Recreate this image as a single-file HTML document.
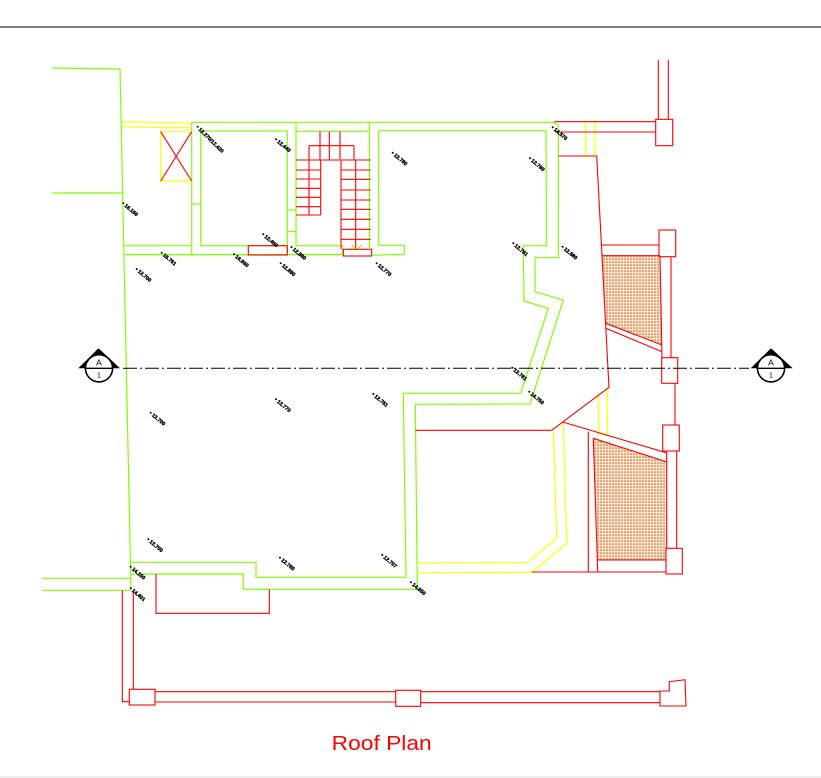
<!DOCTYPE html>
<html><head><meta charset="utf-8"><style>
html,body{margin:0;padding:0;background:#fff;}
svg{display:block;}
.g{stroke:#80ff00;stroke-width:1.2;fill:none;}
.r{stroke:#ff0000;stroke-width:1.1;fill:none;}
.y{stroke:#ffff00;stroke-width:1.2;fill:none;}
.lb text{font-family:"Liberation Sans",sans-serif;font-size:5.2px;font-weight:bold;fill:#000;stroke:#000;stroke-width:0.35;}
.lb circle{fill:#000;}
</style></head><body>
<svg width="821" height="778" viewBox="0 0 821 778" xmlns="http://www.w3.org/2000/svg">
<defs>
<pattern id="h" width="3" height="3" patternUnits="userSpaceOnUse">
<rect x="0" y="0.5" width="2" height="1.2" fill="#d9803f"/>
</pattern>
</defs>
<rect width="821" height="778" fill="#fff"/>
<line x1="0" y1="27" x2="821" y2="27" stroke="#000" stroke-width="1"/>
<line x1="0" y1="777" x2="821" y2="777" stroke="#ddd" stroke-width="1"/>

<!-- hatch areas -->
<polygon points="602.3,255.7 660,255.7 662,345 605.7,323.3" fill="#f8e2d0"/>
<polygon points="602.3,255.7 660,255.7 662,345 605.7,323.3" fill="url(#h)"/>
<polygon points="593.3,438.3 666,461.7 666,560 597.7,560" fill="#f8e2d0"/>
<polygon points="593.3,438.3 666,461.7 666,560 597.7,560" fill="url(#h)"/>

<!-- GREEN -->
<g class="g">
<polyline points="52,68 120,69 131,590"/>
<line x1="52" y1="193" x2="122" y2="193"/>
<line x1="191.7" y1="122.3" x2="553.3" y2="122.3"/>
<polyline points="553.3,122.3 558.3,125 558.3,257.7 535,257.7 535,291.7 563.3,300 530,404 415.3,404.3 417.3,589.3 243.3,589.3 243.3,574 130.5,574"/>
<polyline points="130.3,562.3 256,562.3 256,577.3 406,577.3 403.3,393.3 520.7,393.3 548.3,308.3 524,301 523.3,245.7 546.5,245.7 546,130.7 378.7,130.7 378.7,245.3 404.3,245.3 404.3,254.3 372.7,255.3"/>
<line x1="191.7" y1="122.3" x2="191.7" y2="255"/>
<rect x="200.7" y="131" width="86.6" height="114.7"/>
<line x1="191.7" y1="204" x2="200.7" y2="204"/>
<line x1="287.3" y1="245.7" x2="287.3" y2="255"/>
<line x1="296" y1="122.3" x2="296" y2="245.7"/>
<line x1="287.3" y1="210" x2="296" y2="210"/>
<line x1="287.3" y1="231.5" x2="296" y2="231.5"/>
<line x1="124.5" y1="245.7" x2="191.7" y2="245.7"/>
<line x1="124.7" y1="254.6" x2="342.7" y2="254.6"/>
<polyline points="296,245.7 342.7,245.7 342.7,255"/>
<line x1="296" y1="131.3" x2="369.3" y2="131.3"/>
<line x1="369.3" y1="122.3" x2="369.3" y2="248"/>
<line x1="42" y1="578.3" x2="130.6" y2="578.3"/>
<line x1="42" y1="590.3" x2="131" y2="590.3"/>
<polyline points="351.7,245 356.7,249.5 361.7,245"/>
</g>

<!-- YELLOW -->
<g class="y">
<line x1="122" y1="121.8" x2="191.7" y2="123.2"/>
<line x1="122.2" y1="127" x2="191.7" y2="127.7"/>
<polyline points="191.7,131.7 160.7,131.7 160.7,181 191.7,181"/>
<rect x="585.7" y="121.7" width="9.3" height="34.3"/>
<polyline points="598.3,395 598.5,434.3 607.7,433.8 606.7,389.3"/>
<polyline points="553.3,430 556.7,538.3 526.7,562.7 418.3,562.7"/>
<polyline points="563.3,422.3 566.7,543.3 531.7,572.3 418.3,572.7"/>
</g>

<!-- RED -->
<g class="r">
<line x1="160.7" y1="131.7" x2="191.7" y2="181"/>
<line x1="191.7" y1="131.7" x2="160.7" y2="181"/>
<rect x="248.3" y="245.7" width="39" height="9.3"/>
<!-- stairs -->
<line x1="296" y1="160" x2="320.7" y2="160"/>
<line x1="296" y1="170" x2="320.7" y2="170"/>
<line x1="296" y1="179" x2="320.7" y2="179"/>
<line x1="296" y1="188.3" x2="320.7" y2="188.3"/>
<line x1="296" y1="197.3" x2="320.7" y2="197.3"/>
<line x1="296" y1="206.7" x2="320.7" y2="206.7"/>
<line x1="296" y1="215" x2="320.7" y2="215"/>
<line x1="309" y1="145.7" x2="309" y2="215"/>
<line x1="320.7" y1="160" x2="320.7" y2="215"/>
<line x1="309" y1="145.7" x2="354" y2="145.7"/>
<line x1="320" y1="131.3" x2="320" y2="160"/>
<line x1="329.3" y1="131.3" x2="329.3" y2="160"/>
<line x1="340" y1="131.3" x2="340" y2="160"/>
<line x1="320.7" y1="160" x2="340" y2="160"/>
<line x1="354" y1="145.7" x2="354" y2="160"/>
<line x1="355.7" y1="159.3" x2="355.7" y2="248.3"/>
<line x1="341" y1="160" x2="341" y2="249"/>
<line x1="341" y1="160" x2="370.7" y2="160"/>
<line x1="341" y1="170" x2="370.7" y2="170"/>
<line x1="341" y1="179.3" x2="370.7" y2="179.3"/>
<line x1="341" y1="190" x2="370.7" y2="190"/>
<line x1="341" y1="200" x2="370.7" y2="200"/>
<line x1="341" y1="209.3" x2="370.7" y2="209.3"/>
<line x1="341" y1="219.3" x2="370.7" y2="219.3"/>
<line x1="341" y1="229.3" x2="370.7" y2="229.3"/>
<line x1="341" y1="239.3" x2="370.7" y2="239.3"/>
<rect x="343.3" y="249.3" width="28.4" height="6.7"/>
<!-- right top walls -->
<line x1="554.3" y1="121.7" x2="655.7" y2="121.7"/>
<line x1="555" y1="132" x2="655.7" y2="132"/>
<rect x="655.7" y="119.3" width="17" height="26.4"/>
<line x1="658.3" y1="60" x2="658.3" y2="119.3"/>
<line x1="668.3" y1="60" x2="668.3" y2="119.3"/>
<line x1="558.3" y1="156" x2="596.7" y2="156"/>
<line x1="596.7" y1="156" x2="609" y2="388"/>
<line x1="601.7" y1="245" x2="659" y2="245"/>
<line x1="602.3" y1="255.7" x2="660" y2="255.7"/>
<rect x="659" y="230" width="16.7" height="26.7"/>
<line x1="660" y1="256.7" x2="662" y2="357.7"/>
<line x1="671" y1="256.7" x2="671" y2="357.7"/>
<line x1="605.7" y1="323.3" x2="662" y2="345"/>
<line x1="605.9" y1="328.3" x2="662" y2="351.7"/>
<rect x="661.7" y="357.7" width="16" height="25.6"/>
<line x1="675" y1="383.3" x2="675" y2="425"/>
<rect x="662.7" y="425" width="16.6" height="26"/>
<line x1="666.7" y1="451" x2="666.7" y2="548.3"/>
<line x1="676.7" y1="451" x2="676.7" y2="548.3"/>
<rect x="666" y="548.3" width="16.3" height="25.7"/>
<!-- lower right -->
<line x1="415.3" y1="430.3" x2="551.7" y2="430.3"/>
<line x1="551.7" y1="430.3" x2="609" y2="387.3"/>
<line x1="562.7" y1="422" x2="666" y2="452.7"/>
<line x1="588.3" y1="431.7" x2="588.3" y2="571.7"/>
<polyline points="593.3,438.3 666,461.7"/>
<line x1="593.3" y1="438.3" x2="597.7" y2="571.7"/>
<line x1="597.7" y1="560" x2="666" y2="560"/>
<line x1="531.7" y1="572" x2="666" y2="572"/>
<!-- bottom left -->
<polyline points="156,574 156,613.3 269.3,613.3 269.3,589.3"/>
<polyline points="122.3,590.3 122.3,701.7 129.3,701.7"/>
<line x1="133.3" y1="590.3" x2="133.3" y2="689.3"/>
<rect x="129.3" y="689.3" width="25.7" height="15.7"/>
<line x1="155" y1="691.7" x2="395.7" y2="691.7"/>
<line x1="155" y1="702" x2="395.7" y2="702"/>
<rect x="395.7" y="690.3" width="25" height="16"/>
<line x1="420.7" y1="691.7" x2="660" y2="691.7"/>
<line x1="420.7" y1="702.7" x2="660" y2="702.7"/>
<polygon points="660,691 669.3,691 669.3,681.7 685,679.7 686,706 660,706"/>
</g>

<!-- centerline -->
<line x1="123" y1="368.3" x2="749" y2="368.3" stroke="#000" stroke-width="1" stroke-dasharray="14 3 2 3"/>

<!-- section markers -->
<g>
<polygon points="98.5,348.3 78.3,368.3 120,368.3" fill="#000"/>
<circle cx="99" cy="368.3" r="13.6" fill="#fff" stroke="#000" stroke-width="1.6"/>
<line x1="85" y1="368.3" x2="113" y2="368.3" stroke="#000" stroke-width="1.4"/>
<text x="99" y="365.3" font-family="Liberation Sans,sans-serif" font-size="8.5" text-anchor="middle" fill="#000">A</text>
<text x="99" y="377.5" font-family="Liberation Sans,sans-serif" font-size="7" text-anchor="middle" fill="#000">1</text>
</g>
<g>
<polygon points="771,348.3 750.7,368.3 792.7,368.3" fill="#000"/>
<circle cx="771" cy="368.3" r="13.6" fill="#fff" stroke="#000" stroke-width="1.6"/>
<line x1="757" y1="368.3" x2="785" y2="368.3" stroke="#000" stroke-width="1.4"/>
<text x="771" y="365.3" font-family="Liberation Sans,sans-serif" font-size="8.5" text-anchor="middle" fill="#000">A</text>
<text x="771" y="377.5" font-family="Liberation Sans,sans-serif" font-size="7" text-anchor="middle" fill="#000">1</text>
</g>

<!-- elevation labels -->
<g class="lb">
<g transform="translate(197.7,126.7)"><circle r="1"/><text transform="rotate(45)" x="2.5" y="1.8">12.270/12.420</text></g>
<g transform="translate(276,139.3)"><circle r="1"/><text transform="rotate(40)" x="2.5" y="1.8">12.440</text></g>
<g transform="translate(123.3,203.3)"><circle r="1"/><text transform="rotate(40)" x="2.5" y="1.8">16.160</text></g>
<g transform="translate(263.3,234.3)"><circle r="1"/><text transform="rotate(40)" x="2.5" y="1.8">12.460</text></g>
<g transform="translate(161.7,252.7)"><circle r="1"/><text transform="rotate(40)" x="2.5" y="1.8">16.761</text></g>
<g transform="translate(234,254.3)"><circle r="1"/><text transform="rotate(40)" x="2.5" y="1.8">16.860</text></g>
<g transform="translate(280.7,263.3)"><circle r="1"/><text transform="rotate(40)" x="2.5" y="1.8">12.880</text></g>
<g transform="translate(136.7,269)"><circle r="1"/><text transform="rotate(40)" x="2.5" y="1.8">12.700</text></g>
<g transform="translate(291.5,247)"><circle r="1"/><text transform="rotate(40)" x="2.5" y="1.8">12.880</text></g>
<g transform="translate(392.7,152.7)"><circle r="1"/><text transform="rotate(40)" x="2.5" y="1.8">12.780</text></g>
<g transform="translate(530,158.3)"><circle r="1"/><text transform="rotate(40)" x="2.5" y="1.8">12.780</text></g>
<g transform="translate(552.7,127.3)"><circle r="1"/><text transform="rotate(40)" x="2.5" y="1.8">14.570</text></g>
<g transform="translate(376.7,263.3)"><circle r="1"/><text transform="rotate(40)" x="2.5" y="1.8">12.770</text></g>
<g transform="translate(513.3,243.3)"><circle r="1"/><text transform="rotate(40)" x="2.5" y="1.8">12.781</text></g>
<g transform="translate(562.7,246.7)"><circle r="1"/><text transform="rotate(40)" x="2.5" y="1.8">12.880</text></g>
<g transform="translate(512.3,367.7)"><circle r="1"/><text transform="rotate(40)" x="2.5" y="1.8">12.781</text></g>
<g transform="translate(529.3,391.7)"><circle r="1"/><text transform="rotate(40)" x="2.5" y="1.8">14.750</text></g>
<g transform="translate(150.7,412.7)"><circle r="1"/><text transform="rotate(40)" x="2.5" y="1.8">12.700</text></g>
<g transform="translate(276,399.3)"><circle r="1"/><text transform="rotate(40)" x="2.5" y="1.8">12.770</text></g>
<g transform="translate(373.3,394)"><circle r="1"/><text transform="rotate(40)" x="2.5" y="1.8">12.781</text></g>
<g transform="translate(148.3,539.3)"><circle r="1"/><text transform="rotate(40)" x="2.5" y="1.8">12.700</text></g>
<g transform="translate(280,557.7)"><circle r="1"/><text transform="rotate(40)" x="2.5" y="1.8">12.780</text></g>
<g transform="translate(382.3,555)"><circle r="1"/><text transform="rotate(40)" x="2.5" y="1.8">12.707</text></g>
<g transform="translate(130.7,566.7)"><circle r="1"/><text transform="rotate(40)" x="2.5" y="1.8">14.150</text></g>
<g transform="translate(130.7,588.3)"><circle r="1"/><text transform="rotate(40)" x="2.5" y="1.8">14.401</text></g>
<g transform="translate(411,582.3)"><circle r="1"/><text transform="rotate(40)" x="2.5" y="1.8">14.650</text></g>
</g>

<text x="331.7" y="750" font-family="Liberation Sans,sans-serif" font-size="20" fill="#ff0000" textLength="100" lengthAdjust="spacingAndGlyphs">Roof  Plan</text>
</svg>
</body></html>
